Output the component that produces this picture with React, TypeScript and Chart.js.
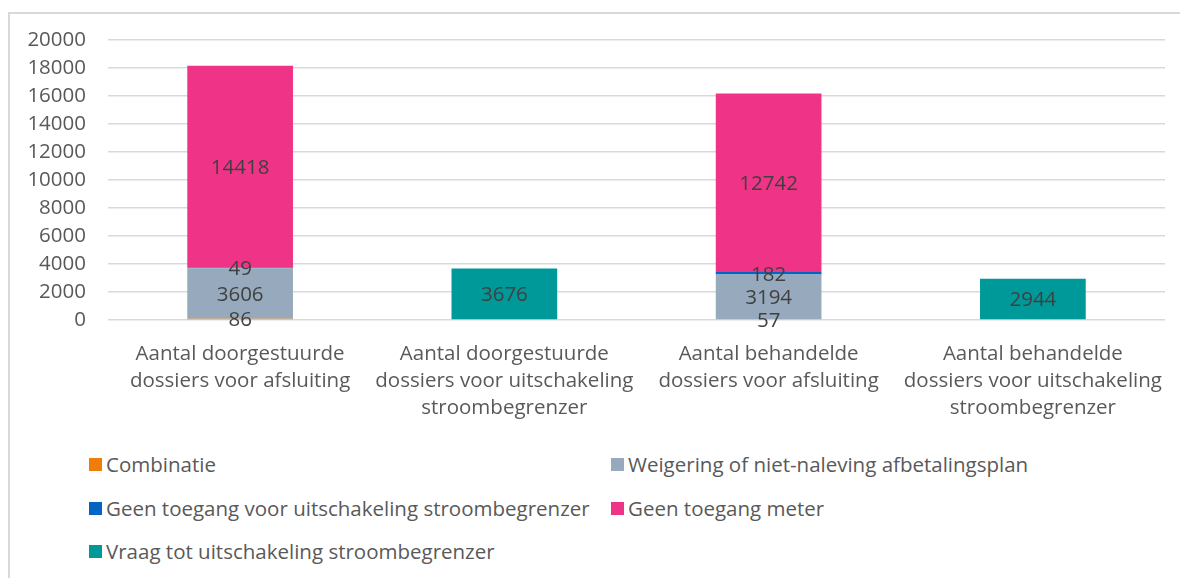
import React, { useEffect, useRef } from "react";
import { Chart, registerables } from "chart.js";

Chart.register(...registerables);

const categories: string[][] = [
  ["Aantal doorgestuurde", "dossiers voor afsluiting"],
  ["Aantal doorgestuurde", "dossiers voor uitschakeling", "stroombegrenzer"],
  ["Aantal behandelde", "dossiers voor afsluiting"],
  ["Aantal behandelde", "dossiers voor uitschakeling", "stroombegrenzer"],
];

const seriesNames = [
  "Combinatie",
  "Weigering of niet-naleving afbetalingsplan",
  "Geen toegang voor uitschakeling stroombegrenzer",
  "Geen toegang meter",
  "Vraag tot uitschakeling stroombegrenzer",
];
const seriesColors = ["#F07D0A", "#97AABD", "#0563C1", "#EF3488", "#009999"];

const combinatie = [86, null, 57, null];
const weigering = [3606, null, 3194, null];
const geenToegangUitschakeling = [49, null, 182, null];
const geenToegangMeter = [14418, null, 12742, null];
const vraagUitschakeling = [null, 3676, null, 2944];

const yMin = 0;
const yMax = 20000;
const yStep = 2000;

const FONT = "'Open Sans', 'Noto Sans', sans-serif";

const labelPlugin = {
  id: "segLabels",
  afterDatasetsDraw(chart: any) {
    const ctx = chart.ctx;
    ctx.save();
    ctx.font = `20.5px ${FONT}`;
    ctx.fillStyle = "#404040";
    ctx.textAlign = "center";
    ctx.textBaseline = "middle";
    chart.data.datasets.forEach((ds: any, i: number) => {
      const meta = chart.getDatasetMeta(i);
      meta.data.forEach((el: any, j: number) => {
        const v = ds.data[j];
        if (v === null || v === undefined) return;
        const y = (el.y + el.base) / 2;
        ctx.fillText(String(v), el.x, y + 1.5);
      });
    });
    ctx.restore();
  },
};

export default function App() {
  const ref = useRef<HTMLCanvasElement>(null);

  useEffect(() => {
    if (!ref.current) return;
    const all = [combinatie, weigering, geenToegangUitschakeling, geenToegangMeter, vraagUitschakeling];
    const chart = new Chart(ref.current, {
      type: "bar",
      data: {
        labels: categories as any,
        datasets: all.map((d, i) => ({
          label: seriesNames[i],
          data: d as any,
          backgroundColor: seriesColors[i],
          stack: "s",
          categoryPercentage: 1,
          barPercentage: 0.4,
        })),
      },
      options: {
        animation: false,
        responsive: false,
        maintainAspectRatio: false,
        layout: { padding: { left: 0, right: 15, top: 40, bottom: 0 } },
        plugins: {
          legend: { display: false },
          tooltip: { enabled: false },
        },
        scales: {
          x: {
            stacked: true,
            grid: { display: false, drawTicks: false },
            border: { display: false },
            ticks: {
              color: "#595959",
              font: { family: FONT, size: 20.5, lineHeight: 1.32 },
              padding: 21,
              maxRotation: 0,
              autoSkip: false,
            },
            afterFit: (s: any) => {
              s.height = 120;
              s.paddingLeft = 0;
              s.paddingRight = 0;
            },
          },
          y: {
            stacked: true,
            min: yMin,
            max: yMax,
            ticks: {
              stepSize: yStep,
              color: "#595959",
              font: { family: FONT, size: 20.5 },
              padding: 22,
              callback: (v: any) => String(v),
            },
            grid: { color: "#D9D9D9", lineWidth: 1.5, drawTicks: false },
            border: { display: false },
            afterFit: (s: any) => {
              s.width = 108;
              s.paddingTop = 0;
              s.paddingBottom = 0;
            },
          },
        },
      },
      plugins: [labelPlugin],
    });
    return () => chart.destroy();
  }, []);

  const legendItems = [
    { i: 0, x: 89, y: 464 },
    { i: 1, x: 611, y: 464 },
    { i: 2, x: 89, y: 508 },
    { i: 3, x: 611, y: 508 },
    { i: 4, x: 89, y: 551 },
  ];

  return (
    <div style={{ position: "absolute", left: 0, top: 0, width: 1180, height: 578, background: "#fff", overflow: "hidden" }}>
      <div
        style={{
          position: "absolute",
          left: 8,
          top: 12,
          width: 1172,
          height: 566,
          borderTop: "2px solid #D9D9D9",
          borderLeft: "2px solid #D9D9D9",
          boxSizing: "border-box",
        }}
      />
      <canvas ref={ref} width={1180} height={440} style={{ position: "absolute", left: 0, top: 0, width: 1180, height: 440 }} />
      {legendItems.map((it) => (
        <div
          key={it.i}
          style={{
            position: "absolute",
            left: it.x,
            top: it.y - 14,
            height: 28,
            display: "flex",
            alignItems: "center",
            whiteSpace: "nowrap",
            fontFamily: FONT,
            fontSize: 20.5,
            color: "#595959",
          }}
        >
          <span style={{ display: "inline-block", width: 13, height: 13, background: seriesColors[it.i], marginRight: 4 }} />
          <span>{seriesNames[it.i]}</span>
        </div>
      ))}
    </div>
  );
}
